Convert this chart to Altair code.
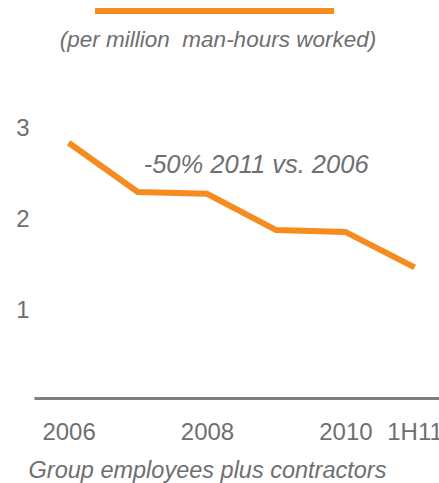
import altair as alt
import pandas as pd

periods = ["2006", "2007", "2008", "2009", "2010", "1H11"]
rates = [2.84, 2.30, 2.28, 1.88, 1.86, 1.47]
tick_idx = [0, 2, 4, 5]
y_ticks = [1, 2, 3]

ann_text = ["-50% 2011 vs. 2006"]
ann_x = [2.71]
ann_y = [2.51]

subtitle = ["(per million\u00a0 man-hours worked)"]
caption = "Group employees plus contractors"

ORANGE = "#F68B1F"
GREY = "#6F6F6F"
FONT = "Liberation Sans"

df = pd.DataFrame({"idx": list(range(len(periods))), "period": periods, "rate": rates})
ann = pd.DataFrame({"x": ann_x, "y": ann_y, "t": ann_text})

label_js = "[" + ",".join("'" + p + "'" for p in periods) + "][datum.value]"

x_scale = alt.Scale(domain=[-0.5, 5.353], nice=False, zero=False)
y_scale = alt.Scale(domain=[0, 3.3], nice=False, zero=True)

line = alt.Chart(df).mark_line(
    color=ORANGE, strokeWidth=6, strokeJoin="miter", strokeCap="butt"
).encode(
    x=alt.X(
        "idx:Q",
        scale=x_scale,
        axis=alt.Axis(
            values=tick_idx,
            labelExpr=label_js,
            grid=False,
            ticks=False,
            tickSize=0,
            domain=True,
            domainColor="#7F7F7F",
            domainWidth=3,
            offset=-3,
            labelFontSize=24,
            labelColor=GREY,
            labelPadding=22,
            labelFlush=False,
            labelOverlap=False,
            title=caption,
            titleFontSize=23.5,
            titleFontStyle="italic",
            titleFontWeight="normal",
            titleColor=GREY,
            titleX=173,
            titleY=79,
            titleAlign="center",
            titleBaseline="alphabetic",
        ),
    ),
    y=alt.Y(
        "rate:Q",
        scale=y_scale,
        axis=alt.Axis(
            values=y_ticks,
            format="d",
            grid=False,
            ticks=False,
            domain=False,
            labelFontSize=24,
            labelColor=GREY,
            labelPadding=5,
            labelBaseline="middle",
            title=None,
        ),
    ),
)

note = alt.Chart(ann).mark_text(
    fontSize=25.5, fontStyle="italic", color=GREY, align="center", baseline="alphabetic"
).encode(
    x=alt.X("x:Q", scale=x_scale),
    y=alt.Y("y:Q", scale=y_scale),
    text="t:N",
)

legend_bar = alt.Chart(pd.DataFrame({"k": [0]})).mark_rule(
    color=ORANGE, strokeWidth=6, strokeCap="butt"
).encode(
    x=alt.value(61), x2=alt.value(300), y=alt.value(-90)
)

sub = alt.Chart(pd.DataFrame({"t": subtitle})).mark_text(
    fontSize=22.5, fontStyle="italic", color=GREY, align="center", baseline="alphabetic"
).encode(
    x=alt.value(184), y=alt.value(-54), text="t:N"
)

chart = alt.layer(line, note, legend_bar, sub).properties(
    width=405,
    height=300,
    autosize=alt.AutoSizeParams(type="none"),
    padding={"left": 34, "right": 0, "top": 101, "bottom": 82},
).configure(font=FONT).configure_view(stroke=None)

chart.save("out.html", embed_options={"renderer": "svg", "actions": False})
